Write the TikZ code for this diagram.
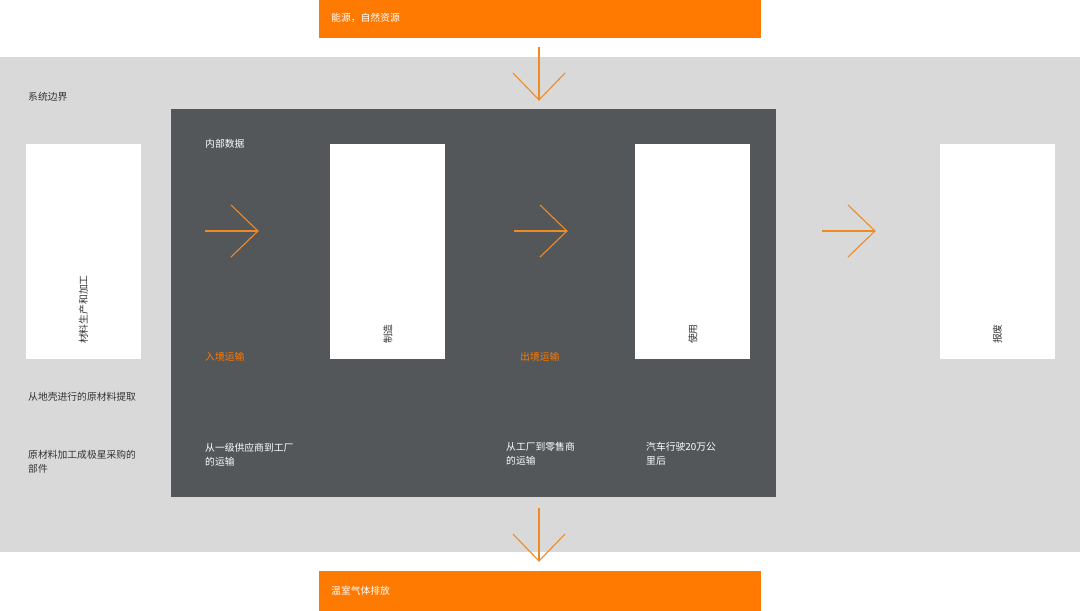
\documentclass[tikz,border=0pt]{standalone}
\usepackage{fontspec}
\setmainfont{Noto Sans CJK SC}
\definecolor{orng}{HTML}{FF7A00}
\definecolor{lgrey}{HTML}{D9D9D9}
\definecolor{dgrey}{HTML}{54575A}
\definecolor{txt}{HTML}{333333}
\definecolor{arr}{HTML}{F08A24}
\begin{document}
\begin{tikzpicture}[x=1pt,y=-1pt,
  lbl/.style={anchor=west,inner sep=0pt,font=\fontsize{9.8}{14}\selectfont},
  ml/.style={lbl,align=left,anchor=north west},
  stage/.style={fill=white,draw=none,minimum width=115pt,minimum height=215pt,anchor=north west,inner sep=0pt},
  vtxt/.style={rotate=90,anchor=west,inner sep=0pt,font=\fontsize{9.8}{11}\selectfont,text=txt},
  chev/.style={draw=arr,line width=1.1pt},
  bar/.style={fill=orng,draw=none,anchor=north west,minimum width=442pt,inner sep=0pt}]
\useasboundingbox (0,0) rectangle (1080,611);
\fill[white] (0,0) rectangle (1080,611);
% regions
\node[bar,minimum height=38pt] (src) at (319,0) {};
\node[fill=lgrey,draw=none,anchor=north west,minimum width=1080pt,minimum height=495pt,inner sep=0pt] (sys) at (0,57) {};
\node[fill=dgrey,draw=none,anchor=north west,minimum width=605pt,minimum height=388pt,inner sep=0pt] (int) at (171,109) {};
\node[bar,minimum height=40pt] (ghg) at (319,571) {};
% bar texts
\node[lbl,text=white] (srct) at (331,18) {能源，自然资源};
\node[lbl,text=white] (ghgt) at (331,591) {温室气体排放};
% stage boxes
\node[stage] (s1) at (26,144) {};
\node[stage] (s2) at (330,144) {};
\node[stage] (s3) at (635,144) {};
\node[stage] (s4) at (940,144) {};
\node[vtxt] (t1) at (83.5,344) {材料生产和加工};
\node[vtxt] (t2) at (388,344) {制造};
\node[vtxt] (t3) at (693,344) {使用};
\node[vtxt] (t4) at (997.5,344) {报废};
% labels
\node[lbl,text=txt] (sb) at (28,97) {系统边界};
\node[lbl,text=white] (id) at (205,144) {内部数据};
\node[lbl,text=orng] (in) at (205,357) {入境运输};
\node[lbl,text=orng] (out) at (520,357) {出境运输};
\node[lbl,text=txt] (d1) at (28,397) {从地壳进行的原材料提取};
\node[ml,text=txt] (d2) at (28,450.5) {原材料加工成极星采购的\\部件};
\node[ml,text=white] (d3) at (205,442.5) {从一级供应商到工厂\\的运输};
\node[ml,text=white] (d4) at (506,442.5) {从工厂到零售商\\的运输};
\node[ml,text=white] (d5) at (646,442.5) {汽车行驶20万公\\里后};
% chevron arrows
\coordinate (a1s) at (205,231); \coordinate (a1e) at (258,231);
\coordinate (a2s) at (514,231); \coordinate (a2e) at (567,231);
\coordinate (a3s) at (822,231); \coordinate (a3e) at (875,231);
\coordinate (a4s) at (539,47);  \coordinate (a4e) at (539,100);
\coordinate (a5s) at (539,508); \coordinate (a5e) at (539,561);
\foreach \a in {a1,a2,a3}{
  \draw[chev] (\a s) -- (\a e);
  \draw[chev,line join=miter] ([shift={(-27,-26)}]\a e) -- (\a e) -- ([shift={(-27,26)}]\a e);
}
\foreach \a in {a4,a5}{
  \draw[chev] (\a s) -- (\a e);
  \draw[chev,line join=miter] ([shift={(-26,-27)}]\a e) -- (\a e) -- ([shift={(26,-27)}]\a e);
}
\end{tikzpicture}
\end{document}
